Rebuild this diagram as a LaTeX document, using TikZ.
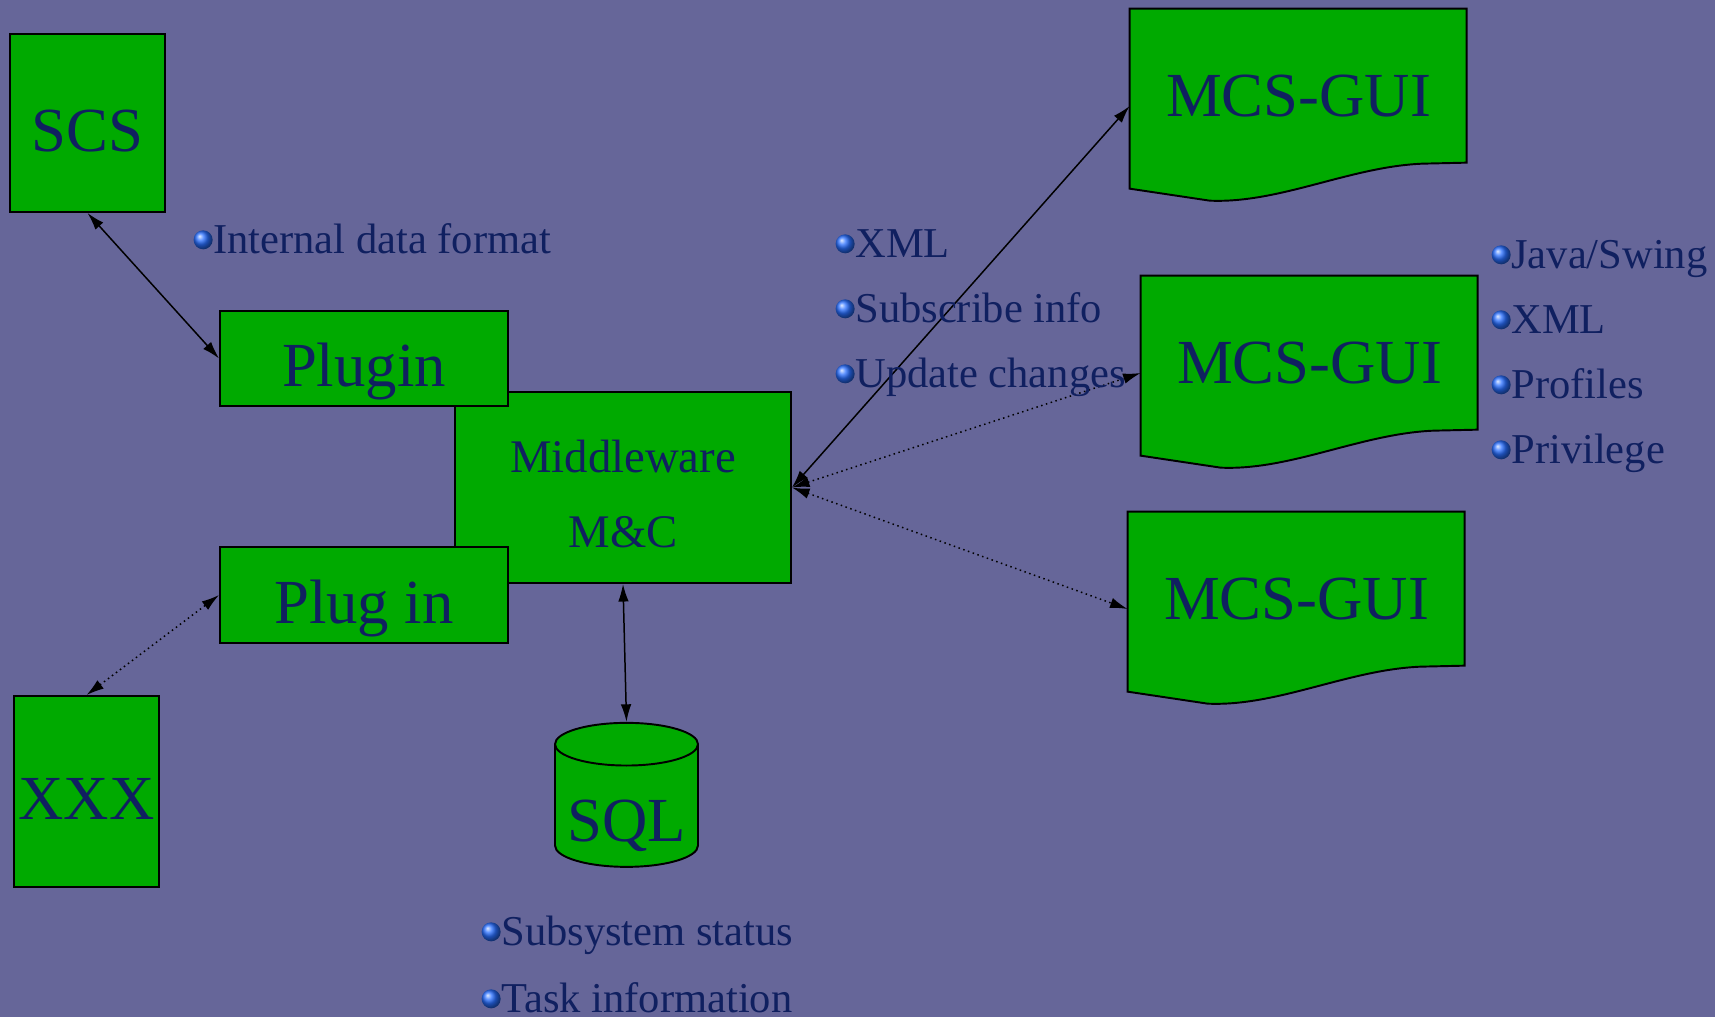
\documentclass[tikz,border=0pt]{standalone}
\usepackage{fontspec}
\setmainfont{Liberation Serif}
\usetikzlibrary{arrows.meta,shapes.geometric}
\pgfdeclarelayer{bg}
\pgfsetlayers{bg,main}
\definecolor{slide}{RGB}{102,102,153}
\definecolor{boxgreen}{RGB}{0,170,0}
\definecolor{ink}{RGB}{16,32,96}
\definecolor{bulletblue}{RGB}{40,110,255}
\tikzset{
    box/.style={rectangle, draw, line width=1.1pt, fill=boxgreen, text=ink, inner sep=0mm,
        text height=32pt, text depth=0pt, font=\fontsize{35.7pt}{40pt}\selectfont},
    gui/.style={rectangle, inner sep=0mm, text=ink, minimum width=6.74cm, minimum height=3.88cm,
        text height=25pt, text depth=12.9pt, font=\fontsize{35.7pt}{40pt}\selectfont},
    guishape/.style={draw, line width=1.1pt, fill=boxgreen},
    db/.style={box, cylinder, shape border rotate=90, aspect=0.36, text height=40pt},
    link/.style={line width=0.85pt, {Latex[length=10pt,width=6pt]}-{Latex[length=10pt,width=6pt]}},
    dot/.style={circle, inner sep=0mm, minimum size=0.38cm, shading=ball, ball color=bulletblue},
    item/.style={anchor=base west, inner sep=0mm, text=ink, text height=15pt, text depth=0pt,
        font=\fontsize{24.2pt}{28pt}\selectfont, label distance=0mm, label={[dot]left:{}}}
}
\begin{document}
\begin{tikzpicture}
        \useasboundingbox (0cm, 0cm) rectangle (34.300000cm, -20.340000cm);
        \begin{pgfonlayer}{bg}
                \fill[slide] (0cm, 0cm) rectangle (34.300000cm, -20.340000cm);
        \end{pgfonlayer}
        \node (scs) [box, minimum width=3.10cm, minimum height=3.56cm] at (1.750000cm, -2.460000cm) {SCS};
        \node (mw) [box, minimum width=6.72cm, minimum height=3.82cm, align=center,
            font=\fontsize{26.6pt}{42.5pt}\selectfont, text height=68pt] at (12.460000cm, -9.750000cm) {Middleware\\M\&C};
        \node (plug1) [box, minimum width=5.76cm, minimum height=1.90cm] at (7.280000cm, -7.170000cm) {Plugin};
        \node (plug2) [box, minimum width=5.76cm, minimum height=1.92cm] at (7.280000cm, -11.900000cm) {Plug in};
        \node (xxx) [box, minimum width=2.90cm, minimum height=3.82cm] at (1.730000cm, -15.830000cm) {XXX};
        \node (sql) [db, minimum width=2.86cm, minimum height=2.88cm] at (12.530000cm, -16.120000cm) {SQL};
        \node (g1) [gui] at (25.970000cm, -2.120000cm) {MCS-GUI};
        \node (g2) [gui] at (26.190000cm, -7.460000cm) {MCS-GUI};
        \node (g3) [gui] at (25.930000cm, -12.180000cm) {MCS-GUI};
        \node (t1) [item] at (4.260000cm, -5.060000cm) {Internal data format};
        \node (t2) [item] at (17.100000cm, -5.140000cm) {XML};
        \node (t3) [item] at (17.100000cm, -6.440000cm) {Subscribe info};
        \node (t4) [item] at (17.100000cm, -7.740000cm) {Update changes};
        \node (t5) [item] at (30.220000cm, -5.360000cm) {Java/Swing};
        \node (t6) [item] at (30.220000cm, -6.660000cm) {XML};
        \node (t7) [item] at (30.220000cm, -7.960000cm) {Profiles};
        \node (t8) [item] at (30.220000cm, -9.260000cm) {Privilege};
        \node (t9) [item] at (10.020000cm, -18.900000cm) {Subsystem status};
        \node (t10) [item] at (10.020000cm, -20.240000cm) {Task information};
        \begin{pgfonlayer}{bg}
                \draw[guishape, shift={(g1.north west)}] (0,0) -- (6.74,0) -- (6.74,-3.08) -- (5.86,-3.10)
                    .. controls (4.40,-3.16) and (3.00,-3.90) .. (1.60,-3.84) -- (0,-3.60) -- cycle;
                \draw[guishape, shift={(g2.north west)}] (0,0) -- (6.74,0) -- (6.74,-3.08) -- (5.86,-3.10)
                    .. controls (4.40,-3.16) and (3.00,-3.90) .. (1.60,-3.84) -- (0,-3.60) -- cycle;
                \draw[guishape, shift={(g3.north west)}] (0,0) -- (6.74,0) -- (6.74,-3.08) -- (5.86,-3.10)
                    .. controls (4.40,-3.16) and (3.00,-3.90) .. (1.60,-3.84) -- (0,-3.60) -- cycle;
                \draw (scs.south) edge [link] (plug1.west);
                \draw (xxx.north) edge [link, dotted] (plug2.west);
                \draw (mw.south) edge [link] (sql.north);
                \draw (mw.east) edge [link] (g1.west);
                \draw (mw.east) edge [link, dotted] (g2.west);
                \draw (mw.east) edge [link, dotted] (g3.west);
        \end{pgfonlayer}
\end{tikzpicture}
\end{document}
